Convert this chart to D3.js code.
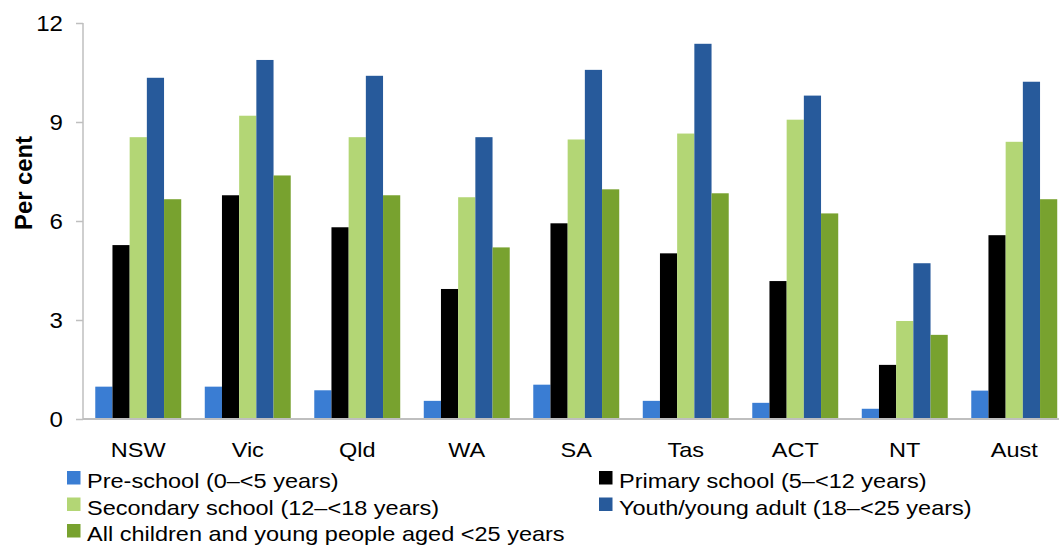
<!DOCTYPE html>
<html>
<head>
<meta charset="utf-8">
<script src="https://cdn.jsdelivr.net/npm/d3@7"></script>
<style>
  html, body { margin: 0; padding: 0; background: #fff; }
  svg { display: block; font-family: "Liberation Sans", Arial, sans-serif; }
</style>
</head>
<body>
<svg id="chart" width="1059" height="547"></svg>
<script>
const categories = ["NSW", "Vic", "Qld", "WA", "SA", "Tas", "ACT", "NT", "Aust"];
const seriesNames = [
  "Pre-school (0\u2013<5 years)",
  "Primary school (5\u2013<12 years)",
  "Secondary school (12\u2013<18 years)",
  "Youth/young adult (18\u2013<25 years)",
  "All children and young people aged <25 years"
];
const preSchool  = [0.98, 0.98, 0.87, 0.55, 1.04, 0.55, 0.49, 0.31, 0.86];
const primary    = [5.27, 6.78, 5.81, 3.94, 5.93, 5.02, 4.18, 1.64, 5.57];
const secondary  = [8.54, 9.19, 8.54, 6.72, 8.47, 8.65, 9.07, 2.97, 8.40];
const youth      = [10.34, 10.88, 10.40, 8.54, 10.58, 11.37, 9.80, 4.72, 10.22];
const allAges    = [6.66, 7.38, 6.78, 5.20, 6.96, 6.84, 6.23, 2.55, 6.66];
const yTicks = [0, 3, 6, 9, 12];
const yTitle = "Per cent";

const seriesValues = [preSchool, primary, secondary, youth, allAges];
const colors = ["#3A7DD3", "#000000", "#B3D675", "#275A9B", "#78A22F"];

const svg = d3.select("#chart");
const SX = 1.12; // horizontal text stretch
const stretchedText = (sel, x, y) => sel.attr("x", 0).attr("y", 0)
  .attr("transform", `translate(${x},${y}) scale(${SX},1)`);

const x0 = d3.scaleBand().domain(categories).range([83.5, 1069])
  .paddingInner(0.215).paddingOuter(0.1075);
const x1 = d3.scaleBand().domain(d3.range(seriesNames.length)).range([0, x0.bandwidth()]);
const y = d3.scaleLinear().domain([0, 12]).range([419, 23]);

// bars
const groups = svg.append("g").selectAll("g").data(categories).join("g")
  .attr("transform", d => `translate(${x0(d)},0)`);
groups.selectAll("rect")
  .data((d, i) => seriesValues.map((vals, s) => ({ s, v: vals[i] })))
  .join("rect")
  .attr("x", d => x1(d.s))
  .attr("width", x1.bandwidth())
  .attr("y", d => y(d.v))
  .attr("height", d => y(0) - y(d.v))
  .attr("fill", d => colors[d.s]);

// y axis
const yAxis = svg.append("g").attr("transform", "translate(83,0)")
  .call(d3.axisLeft(y).tickValues(yTicks).tickSize(7).tickPadding(0).tickFormat(d3.format("d")));
yAxis.attr("font-family", null).attr("font-size", null);
yAxis.select(".domain").attr("stroke", "#BFBFBF").attr("stroke-width", 1.5)
  .attr("d", `M0,${y(12)}V${y(0)}`);
yAxis.selectAll(".tick line").attr("stroke", "#BFBFBF").attr("stroke-width", 1.5);
yAxis.selectAll(".tick text")
  .attr("font-size", 21.5).attr("fill", "#000").attr("text-anchor", "end")
  .attr("dy", null).attr("x", 0).attr("y", 0)
  .attr("transform", `translate(-20,7.8) scale(${SX},1)`);

// x axis baseline
svg.append("line").attr("x1", 83).attr("x2", 1059).attr("y1", y(0)).attr("y2", y(0))
  .attr("stroke", "#BFBFBF").attr("stroke-width", 2);

// category labels
svg.append("g").selectAll("text").data(categories).join("text")
  .attr("font-size", 21).attr("text-anchor", "middle").attr("fill", "#000")
  .each(function(d) { stretchedText(d3.select(this), x0(d) + x0.bandwidth() / 2, 456.5); })
  .text(d => d);

// y title
svg.append("text")
  .attr("transform", `translate(31.5,183) rotate(-90)`)
  .attr("text-anchor", "middle").attr("font-weight", "bold").attr("font-size", 24)
  .attr("fill", "#000")
  .attr("textLength", 94).attr("lengthAdjust", "spacingAndGlyphs")
  .text(yTitle);

// legend
const legendPos = [
  { x: 67, y: 488 }, { x: 599, y: 488 },
  { x: 67, y: 514.5 }, { x: 599, y: 514.5 },
  { x: 67, y: 541 }
];
const legend = svg.append("g").selectAll("g").data(seriesNames).join("g");
legend.append("rect")
  .attr("x", (d, i) => legendPos[i].x).attr("y", (d, i) => legendPos[i].y - 17)
  .attr("width", 13.5).attr("height", 13.5)
  .attr("fill", (d, i) => colors[i]);
legend.append("text")
  .attr("font-size", 21).attr("fill", "#000")
  .each(function(d, i) { stretchedText(d3.select(this), legendPos[i].x + 20, legendPos[i].y); })
  .text(d => d);
</script>
</body>
</html>
